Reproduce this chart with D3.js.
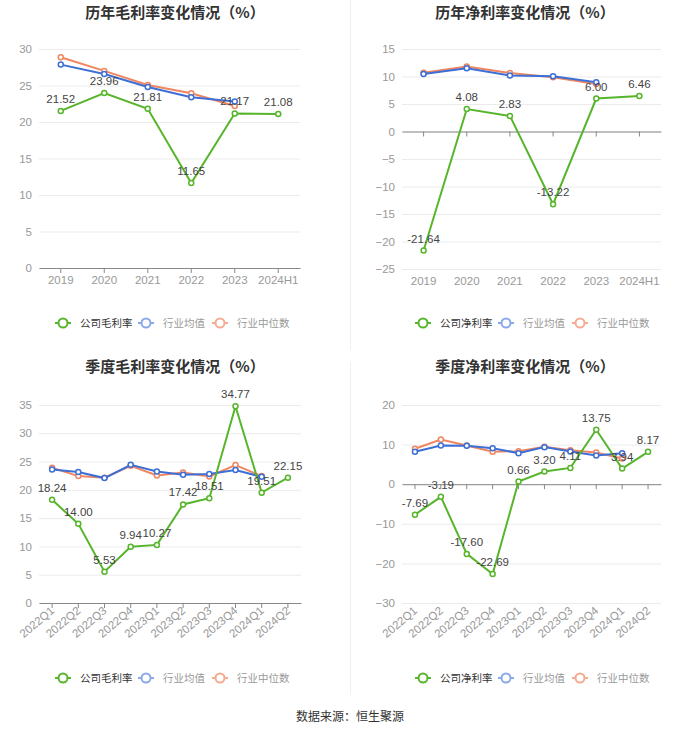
<!DOCTYPE html>
<html><head><meta charset="utf-8">
<script src="https://cdn.jsdelivr.net/npm/d3@7"></script>
<style>body{margin:0;background:#fff;}svg{display:block;font-family:"Noto Sans CJK SC","Noto Sans",sans-serif;}</style>
</head><body><svg id="c" width="700" height="734"></svg>
<script>
// ---- data ----
const years = ["2019","2020","2021","2022","2023","2024H1"];
const quarters = ["2022Q1","2022Q2","2022Q3","2022Q4","2023Q1","2023Q2","2023Q3","2023Q4","2024Q1","2024Q2"];

const annualGross = [21.52, 23.96, 21.81, 11.65, 21.17, 21.08];
const annualGrossMean = [27.86, 26.58, 24.8, 23.39, 22.8, null];
const annualGrossMedian = [28.86, 27.0, 25.08, 23.94, 22.2, null];

const annualNet = [-21.64, 4.08, 2.83, -13.22, 6.00, 6.46];
const annualNetMean = [10.47, 11.5, 10.17, 10.05, 8.96, null];
const annualNetMedian = [10.7, 11.8, 10.65, 9.86, 8.65, null];

const quarterGross = [18.24, 14.00, 5.53, 9.94, 10.27, 17.42, 18.51, 34.77, 19.51, 22.15];
const quarterGrossMean = [23.6, 23.14, 22.08, 24.44, 23.26, 22.67, 22.79, 23.5, 22.3, null];
const quarterGrossMedian = [23.9, 22.43, 22.14, 24.26, 22.55, 23.08, 22.37, 24.38, 22.43, null];

const quarterNet = [-7.69, -3.19, -17.60, -22.69, 0.66, 3.20, 4.11, 13.75, 3.94, 8.17];
const quarterNetMean = [8.18, 9.78, 9.7, 9.1, 7.84, 9.36, 8.26, 7.25, 7.84, null];
const quarterNetMedian = [8.94, 11.3, 9.78, 8.18, 8.35, 9.44, 8.6, 8.0, 6.5, null];

const titles = ["历年毛利率变化情况（%）","历年净利率变化情况（%）","季度毛利率变化情况（%）","季度净利率变化情况（%）"];
const legendGross = ["公司毛利率","行业均值","行业中位数"];
const legendNet = ["公司净利率","行业均值","行业中位数"];
const sourceText = "数据来源：恒生聚源";

// ---- styles ----
const cGreen = "#56b52a", cBlue = "#3d6fd6", cOrange = "#ef8660";
const lgBlue = "#8aa8ea", lgOrange = "#f5ab92";

const svg = d3.select("#c");

// separators
svg.append("line").attr("x1",350.5).attr("x2",350.5).attr("y1",0).attr("y2",350).attr("stroke","#f0f0f0");
svg.append("line").attr("x1",350.5).attr("x2",350.5).attr("y1",362).attr("y2",695).attr("stroke","#f0f0f0");

const panels = [
  {cats:years, s:[annualGross,annualGrossMean,annualGrossMedian], dom:[0,30], step:5, x0:39,x1:300,y0:49,y1:268, title:titles[0], tx:175, ty:18, leg:legendGross, ly:323, lx:55, rot:false},
  {cats:years, s:[annualNet,annualNetMean,annualNetMedian], dom:[-25,15], step:5, x0:402,x1:661,y0:49,y1:269, title:titles[1], tx:525, ty:18, leg:legendNet, ly:323, lx:415, rot:false},
  {cats:quarters, s:[quarterGross,quarterGrossMean,quarterGrossMedian], dom:[0,35], step:5, x0:39,x1:301,y0:405,y1:603, title:titles[2], tx:175, ty:372, leg:legendGross, ly:678, lx:55, rot:true},
  {cats:quarters, s:[quarterNet,quarterNetMean,quarterNetMedian], dom:[-30,20], step:10, x0:402,x1:661,y0:405,y1:603, title:titles[3], tx:525, ty:372, leg:legendNet, ly:678, lx:415, rot:true},
];

panels.forEach(p => {
  const g = svg.append("g");
  const x = d3.scaleBand().domain(p.cats).range([p.x0,p.x1]);
  const y = d3.scaleLinear().domain(p.dom).range([p.y1,p.y0]);
  const ticks = d3.range(p.dom[0], p.dom[1]+0.001, p.step);

  // title
  g.append("text").attr("x",p.tx).attr("y",p.ty).attr("text-anchor","middle")
    .attr("font-size",15).attr("font-weight","bold").attr("fill","#333").text(p.title);

  // grid
  const ya = d3.axisLeft(y).tickValues(ticks).tickSize(-(p.x1-p.x0)).tickPadding(7).tickFormat(d3.format("d"));
  const yg = g.append("g").attr("transform",`translate(${p.x0},0)`).call(ya);
  yg.select(".domain").remove();
  yg.selectAll(".tick line").attr("stroke","#ebebeb");
  yg.selectAll(".tick text").attr("fill","#999").attr("font-size",11.5).attr("font-family","'Liberation Sans',sans-serif");

  // x axis at zero
  const zeroY = y(Math.max(0,p.dom[0]));
  const xa = d3.axisBottom(x).tickSize(5).tickSizeOuter(0).tickFormat("");
  const xg = g.append("g").attr("transform",`translate(0,${zeroY})`).call(xa);
  xg.select(".domain").attr("stroke","#888");
  xg.selectAll(".tick line").attr("stroke","#888");

  // x labels at bottom
  const lab = g.append("g").selectAll("text").data(p.cats).join("text")
    .attr("fill","#999").attr("font-size",11.5).attr("font-family","'Liberation Sans',sans-serif").text(d=>d);
  if (!p.rot) {
    lab.attr("x",d=>x(d)+x.bandwidth()/2).attr("y",p.y1+16).attr("text-anchor","middle");
  } else {
    lab.attr("text-anchor","end")
      .attr("transform",d=>`translate(${x(d)+x.bandwidth()/2+3},${p.y1+9}) rotate(-40)`);
  }

  // lines
  const colors = [cGreen,cBlue,cOrange];
  const line = d3.line().defined(d=>d.v!=null).x(d=>x(d.c)+x.bandwidth()/2).y(d=>y(d.v));
  [2,1,0].forEach(i => {
    const data = p.cats.map((c,j)=>({c, v:p.s[i][j]}));
    g.append("path").datum(data).attr("d",line).attr("fill","none").attr("stroke",colors[i]).attr("stroke-width",2);
    g.selectAll(null).data(data.filter(d=>d.v!=null)).join("circle")
      .attr("cx",d=>x(d.c)+x.bandwidth()/2).attr("cy",d=>y(d.v)).attr("r",2.5)
      .attr("fill","#fff").attr("stroke",colors[i]).attr("stroke-width",1.5);
  });
  // labels for company
  const comp = p.cats.map((c,j)=>({c, v:p.s[0][j]}));
  g.selectAll(null).data(comp).join("text")
    .attr("x",d=>x(d.c)+x.bandwidth()/2).attr("y",d=>y(d.v)-8)
    .attr("text-anchor","middle").attr("font-size",11.5).attr("fill","#444")
    .attr("font-family","'Liberation Sans',sans-serif")
    .text(d=>d.v.toFixed(2));

  // legend
  const lcol = [cGreen,lgBlue,lgOrange];
  const tcol = ["#333","#999","#999"];
  const offs = [0, 83, 157];
  p.leg.forEach((t,i)=>{
    const lx = p.lx + offs[i];
    g.append("line").attr("x1",lx).attr("x2",lx+16).attr("y1",p.ly).attr("y2",p.ly).attr("stroke",lcol[i]).attr("stroke-width",2);
    g.append("circle").attr("cx",lx+8).attr("cy",p.ly).attr("r",4.5).attr("fill","#fff").attr("stroke",lcol[i]).attr("stroke-width",2);
    g.append("text").attr("x",lx+25).attr("y",p.ly+4).attr("font-size",10.5).attr("fill",tcol[i]).text(t);
  });
});

svg.append("text").attr("x",350).attr("y",721).attr("text-anchor","middle").attr("font-size",12).attr("fill","#333").text(sourceText);
</script></body></html>
